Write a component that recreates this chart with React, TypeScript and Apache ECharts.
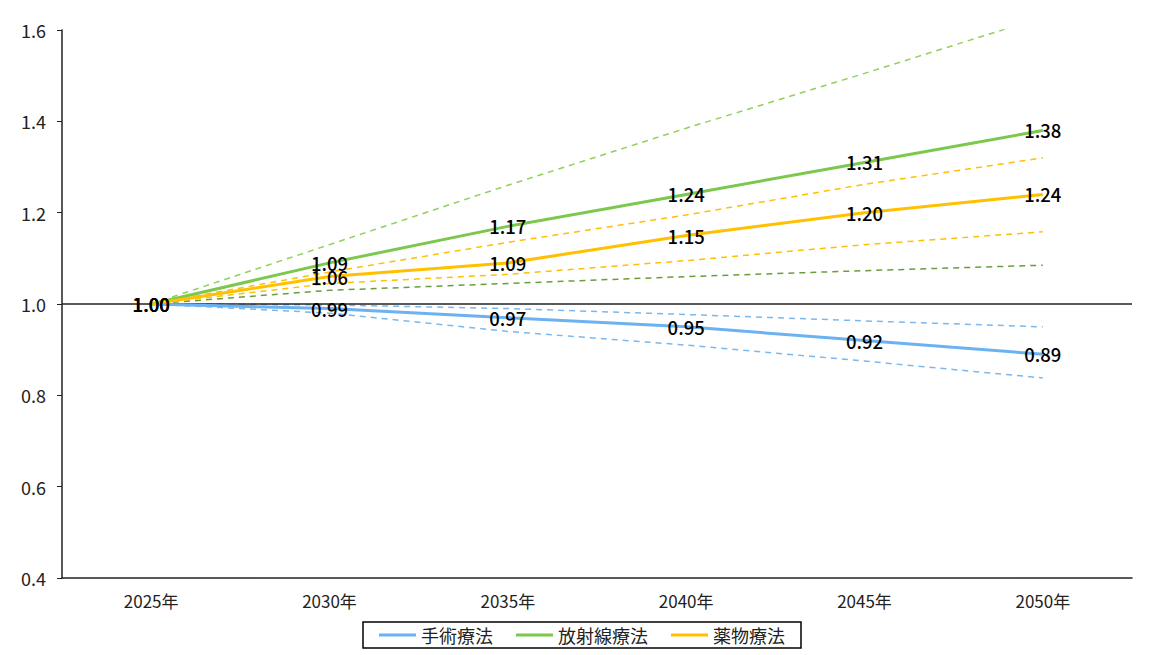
import React, { useEffect, useRef } from "react";
import * as echarts from "echarts";

const categories = ["2025年", "2030年", "2035年", "2040年", "2045年", "2050年"];

const surgery = [1.0, 0.99, 0.97, 0.95, 0.92, 0.89];
const radiation = [1.0, 1.09, 1.17, 1.24, 1.31, 1.38];
const drug = [1.0, 1.06, 1.09, 1.15, 1.2, 1.24];

const radiationUpper = [1.0, 1.13, 1.26, 1.385, 1.505, 1.628];
const radiationLower = [1.0, 1.03, 1.045, 1.06, 1.073, 1.085];
const drugUpper = [1.0, 1.07, 1.135, 1.195, 1.262, 1.32];
const drugLower = [1.0, 1.045, 1.065, 1.095, 1.13, 1.158];
const surgeryUpper = [1.0, 0.998, 0.99, 0.977, 0.963, 0.95];
const surgeryLower = [1.0, 0.98, 0.94, 0.91, 0.875, 0.838];

const yTicks = { min: 0.4, max: 1.6, interval: 0.2 };

const FONT = "'Noto Sans CJK JP', 'Noto Sans', sans-serif";

export default function App() {
  const ref = useRef<HTMLDivElement>(null);

  useEffect(() => {
    document.body.style.margin = "0";
    const chart = echarts.init(ref.current!, null, { renderer: "svg" });

    const dashed = (name: string, data: number[], color: string) => ({
      name,
      type: "line",
      data,
      symbol: "none",
      clip: true,
      silent: true,
      z: 1,
      lineStyle: { color, width: 1.5, type: [6, 5] },
      label: { show: false },
    });

    const solid = (name: string, data: number[], color: string) => ({
      name,
      type: "line",
      data,
      symbol: "circle",
      symbolSize: 0,
      showSymbol: true,
      z: 3,
      lineStyle: { color, width: 3 },
      itemStyle: { color },
      label: {
        show: true,
        position: "inside",
        formatter: (p: any) => Number(p.value).toFixed(2),
        color: "#000",
        fontSize: 18.5,
        fontWeight: 500,
        fontFamily: FONT,
      },
    });

    chart.setOption({
      animation: false,
      backgroundColor: "#fff",
      textStyle: { fontFamily: FONT },
      grid: { left: 62, right: 32, top: 30, bottom: 77 },
      legend: {
        data: ["手術療法", "放射線療法", "薬物療法"],
        bottom: 7,
        left: "center",
        borderColor: "#000",
        borderWidth: 1.5,
        padding: [4, 16],
        itemGap: 23,
        itemWidth: 37,
        itemHeight: 3,
        icon: "rect",
        textStyle: { fontSize: 18, color: "#222", fontFamily: FONT },
      },
      xAxis: {
        type: "category",
        data: categories,
        boundaryGap: true,
        axisLine: { lineStyle: { color: "#222", width: 1.5 } },
        axisTick: { show: false },
        axisLabel: { fontSize: 17, color: "#222", margin: 14, fontFamily: FONT },
      },
      yAxis: {
        type: "value",
        min: yTicks.min,
        max: yTicks.max,
        interval: yTicks.interval,
        axisLine: { show: true, lineStyle: { color: "#222", width: 1.5 } },
        axisTick: { show: true, length: 5, lineStyle: { color: "#222" } },
        splitLine: { show: false },
        axisLabel: {
          fontSize: 18,
          color: "#222",
          margin: 16,
          formatter: (v: number) => v.toFixed(1),
          fontFamily: FONT,
        },
      },
      series: [
        dashed("放射線上限", radiationUpper, "#8fd15a"),
        dashed("放射線下限", radiationLower, "#6a9e3c"),
        dashed("薬物上限", drugUpper, "#ffc000"),
        dashed("薬物下限", drugLower, "#ffc000"),
        dashed("手術上限", surgeryUpper, "#7ab8ee"),
        dashed("手術下限", surgeryLower, "#7ab8ee"),
        {
          ...solid("手術療法", surgery, "#6cb2f2"),
          markLine: {
            silent: true,
            symbol: "none",
            label: { show: false },
            lineStyle: { color: "#222", width: 1.5, type: "solid" },
            data: [{ yAxis: 1.0 }],
            z: 2,
          },
        },
        solid("放射線療法", radiation, "#7cc84e"),
        solid("薬物療法", drug, "#ffc000"),
      ],
    });

    return () => chart.dispose();
  }, []);

  return <div ref={ref} style={{ width: 1164, height: 655 }} />;
}
